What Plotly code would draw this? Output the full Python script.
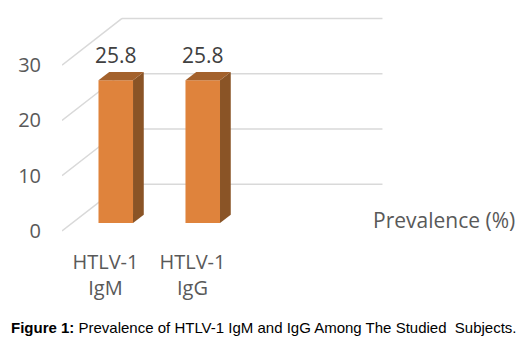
import plotly.graph_objects as go

categories = ["HTLV-1<br>IgM", "HTLV-1<br>IgG"]
values = [25.8, 25.8]
value_labels = ["25.8", "25.8"]
y_ticks = [0, 10, 20, 30]
legend_label = "Prevalence (%)"
caption_bold = "Figure 1:"
caption_text = " Prevalence of HTLV-1 IgM and IgG Among The Studied\u00a0 Subjects."

# 3D projection parameters (data units)
DX, DY = 0.69, 8.44          # depth offset of back wall
F0, F1 = 0.171, 0.35         # bar front / back depth fractions
BAR_W = 0.397
X_LEFT, X_RIGHT_BACK = -0.5, 3.184

FRONT = "#DF833C"
SIDE = "#8A5426"
TOP = "#A3612C"
GRID = "#D9D9D9"
TXT = "#595959"
FONT = "Open Sans"

xs = list(range(len(categories)))
fig = go.Figure()

shapes = []
for v in y_ticks:
    shapes.append(dict(type="line", xref="x", yref="y", layer="below",
                       x0=X_LEFT, y0=v, x1=X_LEFT + DX, y1=v + DY,
                       line=dict(color=GRID, width=1.5)))
    shapes.append(dict(type="line", xref="x", yref="y", layer="below",
                       x0=X_LEFT + DX, y0=v + DY, x1=X_RIGHT_BACK, y1=v + DY,
                       line=dict(color=GRID, width=1.5)))

fig.add_trace(go.Bar(
    x=[x + F0 * DX for x in xs], y=values, base=[F0 * DY] * len(xs),
    width=BAR_W, marker=dict(color=FRONT, line=dict(width=0)),
    hoverinfo="skip", showlegend=False))

ddx, ddy = (F1 - F0) * DX, (F1 - F0) * DY
for x, v in zip(xs, values):
    xl = x + F0 * DX - BAR_W / 2
    xr = x + F0 * DX + BAR_W / 2
    b = F0 * DY
    t = b + v
    fig.add_trace(go.Scatter(
        x=[xr, xr + ddx, xr + ddx, xr, xr], y=[b, b + ddy, t + ddy, t, b],
        mode="lines", fill="toself", fillcolor=SIDE, line=dict(width=0, color=SIDE),
        hoverinfo="skip", showlegend=False))
    fig.add_trace(go.Scatter(
        x=[xl, xr, xr + ddx, xl + ddx, xl], y=[t, t, t + ddy, t + ddy, t],
        mode="lines", fill="toself", fillcolor=TOP, line=dict(width=0, color=TOP),
        hoverinfo="skip", showlegend=False))

annotations = []
for x, v, lab in zip(xs, values, value_labels):
    annotations.append(dict(x=x + F0 * DX, y=v + F0 * DY, xref="x", yref="y",
                            text=lab, showarrow=False, yanchor="middle", yshift=25,
                            font=dict(family=FONT, size=21, color="#404040")))

annotations.append(dict(xref="paper", yref="paper", x=0.66, y=0.086,
                        xanchor="left", yanchor="middle", text=legend_label,
                        showarrow=False, font=dict(family=FONT, size=21, color=TXT)))
annotations.append(dict(xref="paper", yref="paper", x=-0.113, y=-0.379,
                        xanchor="left", yanchor="middle",
                        text="<b>" + caption_bold + "</b>" + caption_text,
                        showarrow=False,
                        font=dict(family="Liberation Sans, Arial", size=15, color="#000000")))

fig.update_layout(
    width=522, height=338,
    margin=dict(l=54, r=0, t=0, b=106),
    paper_bgcolor="white", plot_bgcolor="white",
    shapes=shapes, annotations=annotations,
    xaxis=dict(range=[-0.5, 4.88], tickvals=xs, ticktext=categories,
               showgrid=False, zeroline=False, showline=False, ticks="",
               ticklabelstandoff=8,
               tickfont=dict(family=FONT, size=20, color=TXT)),
    yaxis=dict(range=[-1.63, 40.33], tickvals=y_ticks,
               showgrid=False, zeroline=False, showline=False, ticks="",
               ticklabelstandoff=20,
               tickfont=dict(family=FONT, size=20, color=TXT)),
    font=dict(family=FONT),
)

fig.write_html("out.html")
